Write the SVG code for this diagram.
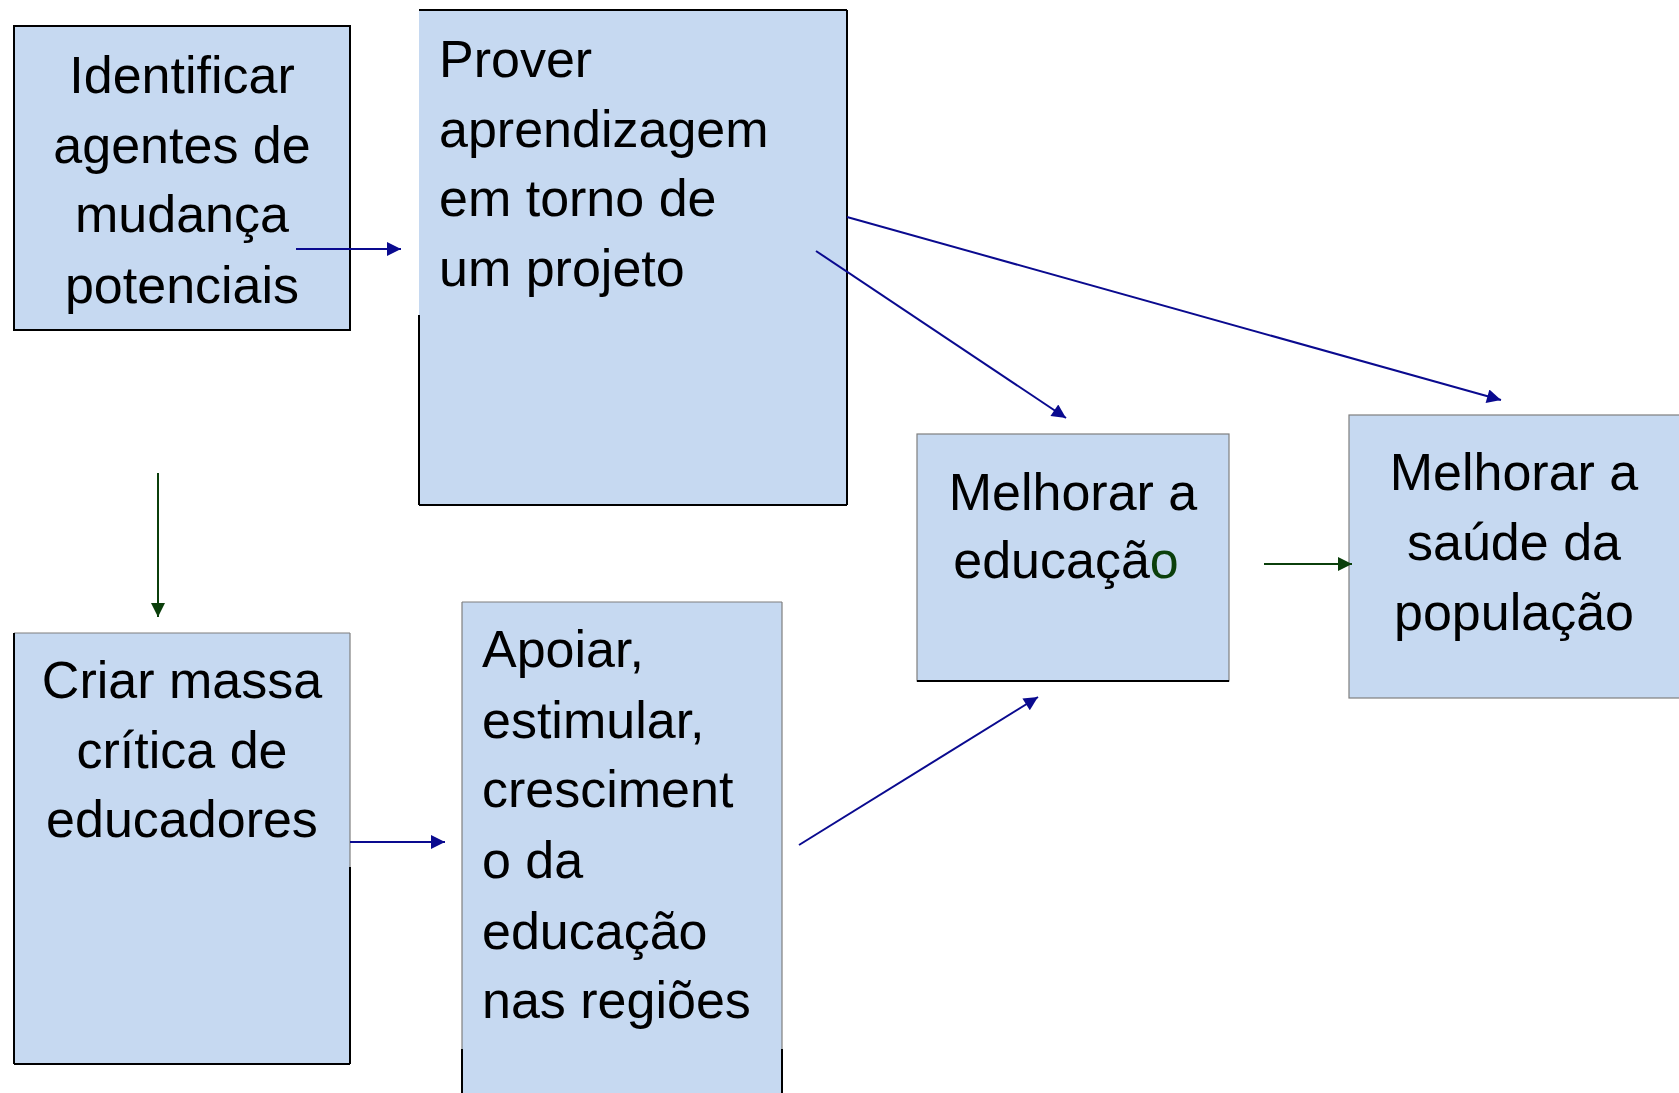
<svg xmlns="http://www.w3.org/2000/svg" width="1679" height="1093" viewBox="0 0 1679 1093">
<style>
.fill{fill:#C6D9F1;stroke:none}
.bk{stroke:#000;stroke-width:2;fill:none}
.gr{stroke:#7f7f7f;stroke-width:1.2;fill:none}
.t{font-family:"Liberation Sans",Arial,sans-serif;font-size:52px;fill:#000}
.c{text-anchor:middle}
.blue{stroke:#0a0a8f;stroke-width:2;fill:none}
.green{stroke:#0b3f0b;stroke-width:2;fill:none}
</style>
<defs>
<marker id="ab" viewBox="0 0 10 10" refX="10" refY="5" markerWidth="18" markerHeight="14" markerUnits="userSpaceOnUse" orient="auto"><path d="M0,0 L10,5 L0,10 z" fill="#0a0a8f"/></marker>
<marker id="ag" viewBox="0 0 10 10" refX="10" refY="5" markerWidth="18" markerHeight="14" markerUnits="userSpaceOnUse" orient="auto"><path d="M0,0 L10,5 L0,10 z" fill="#0b3f0b"/></marker>
</defs>
<rect width="1679" height="1093" fill="#fff"/>

<g id="n1">
<rect class="fill" x="14" y="26" width="336" height="304"/>
<rect class="bk" x="14" y="26" width="336" height="304"/>
<text class="t c" x="182"><tspan x="182" y="93">Identificar</tspan><tspan x="182" y="163">agentes de</tspan><tspan x="182" y="232">mudança</tspan><tspan x="182" y="303">potenciais</tspan></text>
</g>

<g id="n2">
<rect class="fill" x="419" y="10" width="428" height="495"/>
<line class="bk" x1="419" y1="10" x2="847" y2="10"/>
<line class="bk" x1="847" y1="10" x2="847" y2="505"/>
<line class="bk" x1="419" y1="505" x2="847" y2="505"/>
<line class="bk" x1="419" y1="315" x2="419" y2="505"/>
<text class="t"><tspan x="439" y="77">Prover</tspan><tspan x="439" y="147">aprendizagem</tspan><tspan x="439" y="216">em torno de</tspan><tspan x="439" y="286">um projeto</tspan></text>
</g>

<g id="n3">
<rect class="fill" x="917" y="434" width="312" height="247"/>
<rect class="gr" x="917" y="434" width="312" height="247"/>
<line class="bk" x1="917" y1="681" x2="1229" y2="681"/>
<text class="t c"><tspan x="1073" y="510">Melhorar a</tspan><tspan x="1066" y="578">educaçã<tspan fill="#0b3f0b">o</tspan></tspan></text>
</g>

<g id="n4">
<rect class="fill" x="1349" y="415" width="340" height="283"/>
<rect class="gr" x="1349" y="415" width="340" height="283"/>
<text class="t c"><tspan x="1514" y="490">Melhorar a</tspan><tspan x="1514" y="560">saúde da</tspan><tspan x="1514" y="630">população</tspan></text>
</g>

<g id="n5">
<rect class="fill" x="14" y="633" width="336" height="431"/>
<line class="gr" x1="14" y1="633" x2="350" y2="633"/>
<line class="gr" x1="350" y1="633" x2="350" y2="867"/>
<line class="bk" x1="14" y1="633" x2="14" y2="1064"/>
<line class="bk" x1="14" y1="1064" x2="350" y2="1064"/>
<line class="bk" x1="350" y1="867" x2="350" y2="1064"/>
<text class="t c"><tspan x="182" y="698">Criar massa</tspan><tspan x="182" y="768">crítica de</tspan><tspan x="182" y="837">educadores</tspan></text>
</g>

<g id="n6">
<rect class="fill" x="462" y="602" width="320" height="500"/>
<line class="gr" x1="462" y1="602" x2="782" y2="602"/>
<line class="gr" x1="462" y1="602" x2="462" y2="1049"/>
<line class="gr" x1="782" y1="602" x2="782" y2="1049"/>
<line class="bk" x1="462" y1="1049" x2="462" y2="1093"/>
<line class="bk" x1="782" y1="1049" x2="782" y2="1093"/>
<text class="t"><tspan x="482" y="667">Apoiar,</tspan><tspan x="482" y="738">estimular,</tspan><tspan x="482" y="807">cresciment</tspan><tspan x="482" y="878">o da</tspan><tspan x="482" y="949">educação</tspan><tspan x="482" y="1018">nas regiões</tspan></text>
</g>

<g id="connectors">
<line class="blue" x1="296" y1="249" x2="401" y2="249" marker-end="url(#ab)"/>
<line class="green" x1="158" y1="473" x2="158" y2="617" marker-end="url(#ag)"/>
<line class="blue" x1="816" y1="251" x2="1066" y2="418" marker-end="url(#ab)"/>
<line class="blue" x1="847" y1="217" x2="1501" y2="400" marker-end="url(#ab)"/>
<line class="blue" x1="350" y1="842" x2="445" y2="842" marker-end="url(#ab)"/>
<line class="blue" x1="799" y1="845" x2="1038" y2="697" marker-end="url(#ab)"/>
<line class="green" x1="1264" y1="564" x2="1352" y2="564" marker-end="url(#ag)"/>
</g>
</svg>
